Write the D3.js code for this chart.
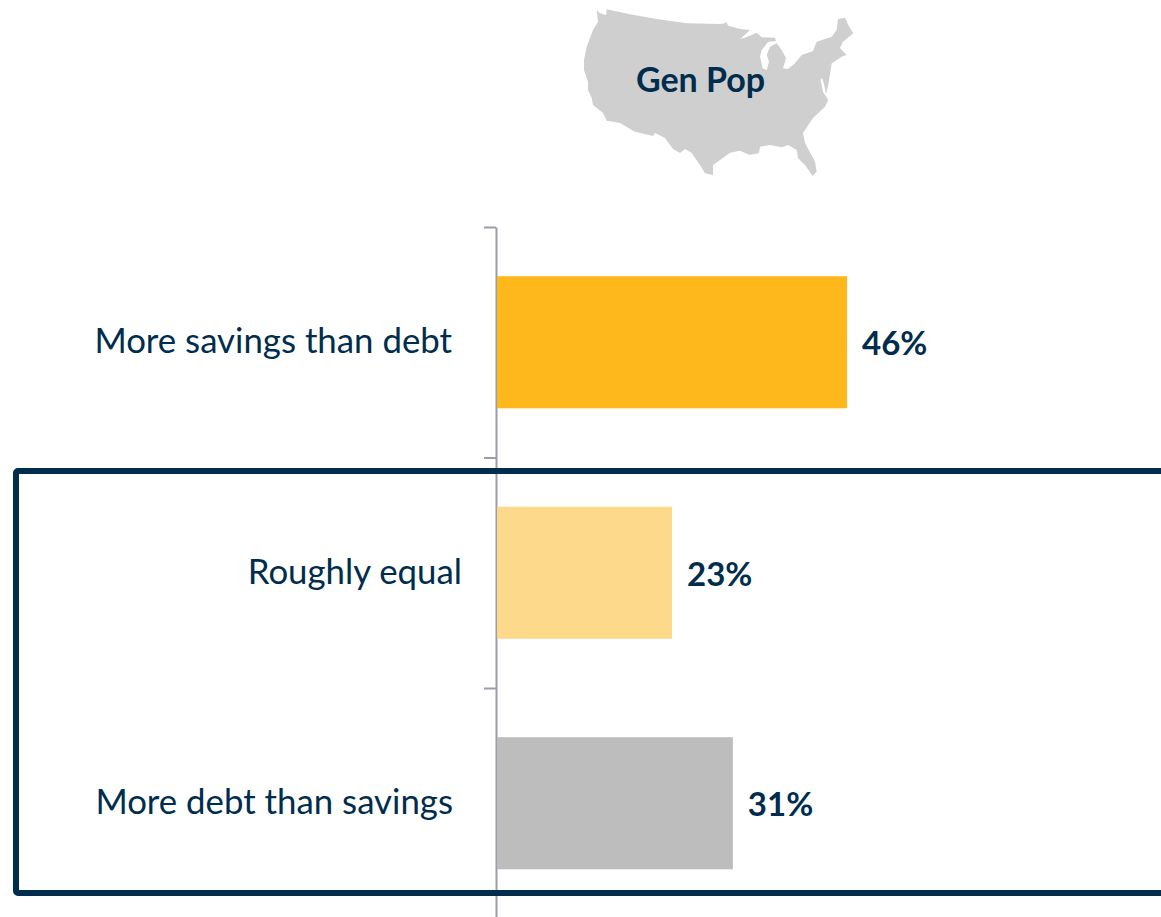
<!DOCTYPE html>
<html>
<head>
<meta charset="utf-8">
<script src="https://cdn.jsdelivr.net/npm/d3@7"></script>
<style>
html,body{margin:0;padding:0;background:#fff;overflow:hidden}
svg{display:block}
text{font-family:Lato,"Noto Sans",sans-serif;fill:#002D4E}
</style>
</head>
<body>
<div id="chart"></div>
<script>
const categories = ["More savings than debt", "Roughly equal", "More debt than savings"];
const values = [46, 23, 31];
const valueLabels = ["46%", "23%", "31%"];
const barColors = ["#FFB81C", "#FDD98C", "#BDBDBD"];
const labelEndOffsets = [-45, -35, -44];
const mapTitle = "Gen Pop";
const mapOutline = [[596.7,10],[599.5,13],[606,15],[606.7,9.3],[630,14.3],[656.7,19],[686.7,23.3],[720,24],[725,23.3],[726,21.7],[728.3,25.7],[740,29],[750,30],[740,39.3],[750,35.7],[756.7,32.7],[761.7,37.3],[775,37.7],[776,41],[768,42],[761.7,50],[760,56.7],[762.7,68.3],[766.7,70],[769,61.7],[766.7,55],[770,46.7],[776.7,43.3],[781.7,50],[786,58.3],[783,68.3],[788,69],[795,63.3],[801.7,55],[813,51],[816.7,41.7],[831.7,36.7],[836.7,30],[838,19],[845,17.7],[848.3,25],[853.3,33.3],[843,41.7],[840,48],[846.7,55],[841.7,56.7],[831.7,63.3],[830,74],[828,86],[826,94],[824,84],[822,78],[820.5,80],[823,92],[828.3,100],[825,106.7],[813,118],[803,133],[805,143],[815,161.7],[816.7,171.7],[812.7,176],[805,165],[798,158],[796.7,150],[788,145],[781.7,147.3],[770,145],[760,146.7],[759,153],[750,155],[740,150.7],[730,152.7],[720,160],[713,165],[713,175],[705,173.3],[700,165],[691.7,153],[685,149],[680,153],[673,149],[665,138],[655,133],[653,136],[635,131.7],[620,123],[606.7,120.7],[603,113],[593,105],[591.7,98],[588,90],[588,81.7],[584,70],[584,60],[586.7,46.7],[590,38],[593,30],[598,21.7]];

const W = 1161, H = 917, navy = "#002D4E", axisGrey = "#9A9EA8";
const svg = d3.select("#chart").append("svg").attr("width", W).attr("height", H);
svg.append("defs").append("filter").attr("id", "soft")
  .append("feGaussianBlur").attr("stdDeviation", 0.5);

// Map silhouette
svg.append("path")
  .attr("d", d3.line().curve(d3.curveLinearClosed)(mapOutline))
  .attr("fill", "#CFCFCF").attr("filter", "url(#soft)");
svg.append("text").attr("x", 700.5).attr("y", 92).attr("text-anchor", "middle")
  .attr("font-size", 34).attr("font-weight", 700).text(mapTitle);

// Scales
const x = d3.scaleLinear().domain([0, 46]).range([497, 847]);
const y = d3.scaleBand().domain(categories).range([227, 918.5]).paddingInner(0.427).paddingOuter(0.2135);
const edges = d3.scaleLinear().domain([0, categories.length]).range([227, 918.5]);

// Axis
const axis = d3.axisLeft(edges).tickValues(d3.range(categories.length + 1)).tickSize(12).tickSizeOuter(0).tickFormat("");
const gAxis = svg.append("g").attr("transform", "translate(496,0)").call(axis);
gAxis.selectAll("path,line").attr("stroke", axisGrey).attr("stroke-width", 2);

// Bars
svg.append("g").selectAll("rect").data(categories).join("rect")
  .attr("x", x(0)).attr("y", d => y(d))
  .attr("width", (d, i) => x(values[i]) - x(0))
  .attr("height", y.bandwidth())
  .attr("fill", (d, i) => barColors[i]);

// Category labels
svg.append("g").selectAll("text").data(categories).join("text")
  .attr("x", (d, i) => x(0) + labelEndOffsets[i])
  .attr("y", d => y(d) + y.bandwidth() / 2 + 11)
  .attr("text-anchor", "end").attr("font-size", 34.8).text(d => d);

// Value labels
svg.append("g").selectAll("text").data(categories).join("text")
  .attr("x", (d, i) => x(values[i]) + 15)
  .attr("y", d => y(d) + y.bandwidth() / 2 + 13)
  .attr("font-size", 33).attr("font-weight", 700).text((d, i) => valueLabels[i]);

// Highlight box (runs off the right edge)
svg.append("rect").attr("x", 16).attr("y", 471).attr("width", W + 20).attr("height", 422)
  .attr("rx", 2).attr("fill", "none").attr("stroke", navy).attr("stroke-width", 6);
</script>
</body>
</html>
